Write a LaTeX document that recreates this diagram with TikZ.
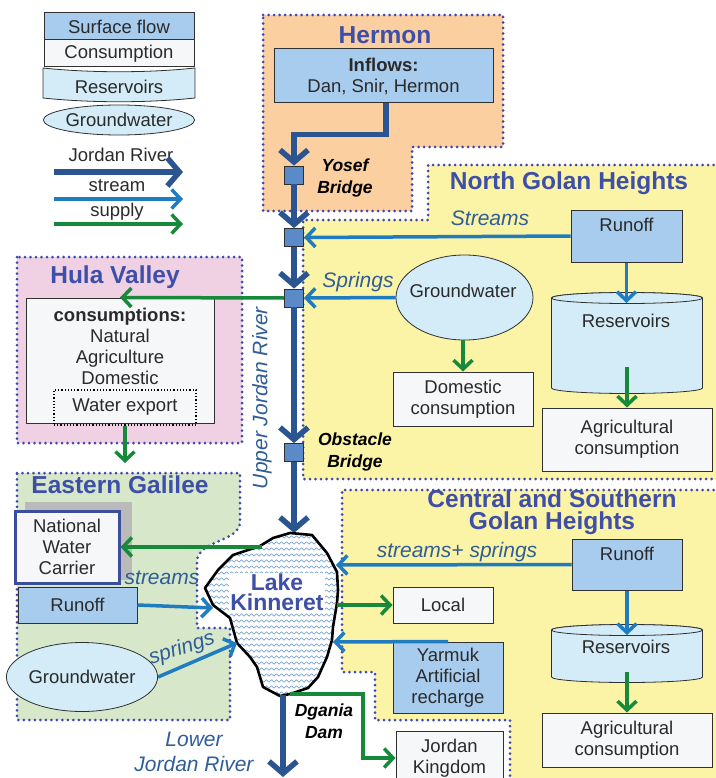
\documentclass[tikz,border=0pt]{standalone}
\usepackage{fontspec}
\setmainfont{Liberation Sans}
\usetikzlibrary{arrows.meta,shapes.geometric,decorations.pathmorphing,calc}
\definecolor{dotc}{HTML}{4048B0}
\definecolor{titc}{HTML}{3D4FA8}
\definecolor{riverc}{HTML}{2A5590}
\definecolor{streamc}{HTML}{1F7CC1}
\definecolor{supplyc}{HTML}{17893A}
\definecolor{labc}{HTML}{2F5D98}
\definecolor{surfc}{HTML}{A8CCEE}
\definecolor{resc}{HTML}{D3ECF8}
\definecolor{consc}{HTML}{F6F7F9}
\definecolor{orangec}{HTML}{FBCF9F}
\definecolor{yellowc}{HTML}{FBF3A6}
\definecolor{pinkc}{HTML}{EFD1E3}
\definecolor{greenc}{HTML}{D7E7C9}
\definecolor{sqc}{HTML}{5B8AC8}
\definecolor{linec}{HTML}{303030}
\definecolor{txtc}{HTML}{2A2A2A}
\definecolor{nwcc}{HTML}{3B4E9E}
\definecolor{wavec}{HTML}{5E93D0}
\newcommand\nf{\fontsize{18.5}{21}\selectfont}
\newcommand\tf{\bfseries\fontsize{24.5}{22}\selectfont}
\newcommand\lf{\itshape\fontsize{21}{25}\selectfont}
\newcommand\bif{\bfseries\itshape\fontsize{17.5}{22}\selectfont}
\begin{document}
\begin{tikzpicture}[x=1pt,y=-1pt,
  every node/.style={text=txtc, font=\nf},
  region/.style={draw=dotc, line width=3pt, line cap=round, dash pattern=on 0pt off 5.5pt},
  box/.style={draw=linec, line width=1pt, inner sep=0pt, align=center},
  surf/.style={box, fill=surfc},
  cons/.style={box, fill=consc},
  gw/.style={ellipse, draw=linec, line width=0.8pt, fill=resc, inner sep=0pt},
  cyl/.style={draw=linec, line width=0.8pt, fill=resc},
  river/.style={draw=riverc, line width=5.5pt, -{Straight Barb[length=12pt,width=28pt]}},
  stream/.style={draw=streamc, line width=3.5pt, -{Straight Barb[length=9pt,width=19pt]}},
  supply/.style={draw=supplyc, line width=3.5pt, -{Straight Barb[length=9pt,width=19pt]}},
  bridge/.style={draw=linec, fill=sqc, line width=0.8pt, minimum width=19pt, minimum height=18pt, inner sep=0pt},
  title/.style={text=titc, font=\tf, align=center},
  lab/.style={text=labc, font=\lf},
  blab/.style={text=black, font=\bif, align=center},
  wave/.style={draw=wavec, line width=0.5pt, decorate, decoration={snake, amplitude=1.2pt, segment length=5pt}}
]
\useasboundingbox (0,0) rectangle (715,778);

% ---------- regions ----------
\path[region, fill=orangec] (263,15) -- (503,15) -- (503,147) -- (412,147) -- (412,211) -- (263,211) -- cycle;
\path[fill=yellowc] (428,165) -- (730,165) -- (730,479) -- (303,479) -- (303,220) -- (428,220) -- cycle;
\draw[region] (730,165) -- (428,165) -- (428,220) -- (303,220) -- (303,479) -- (730,479);
\path[fill=yellowc] (342,490) -- (730,490) -- (730,790) -- (510,790) -- (510,720) -- (375,720) -- (375,672) -- (342,672) -- cycle;
\draw[region] (730,490) -- (342,490) -- (342,672) -- (375,672) -- (375,720) -- (510,720) -- (510,790);
\path[region, fill=pinkc] (17,257) rectangle (242,443);
\path[region, fill=greenc] (17,473) -- (240,473) -- (240,522) .. controls (240,542) and (197,540) .. (197,562) -- (197,628) -- (230,628) -- (230,720) -- (17,720) -- cycle;

% ---------- legend ----------
\node[surf, minimum width=150pt, minimum height=27pt] (lsf) at (119,26.5) {Surface flow};
\node[cons, minimum width=150pt, minimum height=27pt] (lcons) at (119,53.5) {Consumption};
\path[cyl] (43,68) .. controls (90,73) and (148,73) .. (195,68) -- (195,98) .. controls (148,103) and (90,103) .. (43,98) -- cycle;
\node (lres) at (119,87) {Reservoirs};
\node[gw, minimum width=148pt, minimum height=30pt] (lgw) at (119,120) {Groundwater};
\node (ljr) at (121,155) {Jordan River};
\coordinate (ljra) at (54,172); \coordinate (ljrb) at (183,172);
\draw[river] (ljra) -- (ljrb);
\node (lst) at (117,186) {stream};
\coordinate (lsta) at (54,199); \coordinate (lstb) at (183,199);
\draw[stream] (lsta) -- (lstb);
\node (lsu) at (117,212) {supply};
\coordinate (lsua) at (54,224); \coordinate (lsub) at (183,224);
\draw[supply] (lsua) -- (lsub);

% ---------- Hermon ----------
\node[title] (thermon) at (385,35) {Hermon};
\node[surf, minimum width=219pt, minimum height=54pt] (inflow) at (383.5,76) {\textbf{Inflows:}\\Dan, Snir, Hermon};

% ---------- river squares ----------
\node[bridge] (yosef) at (294,175) {};
\node[bridge] (sq2) at (294,237.5) {};
\node[bridge] (sq3) at (294,298) {};
\node[bridge] (obst) at (294,452.5) {};
\draw[river] ([xshift=2.5pt]inflow.south) |- ($(yosef.north)+(0,-31)$) -- (yosef.north);
\draw[river] (yosef.south) -- (sq2.north);
\draw[river] (sq2.south) -- (sq3.north);
\draw[river] (sq3.south) -- (obst.north);
\coordinate (laketop) at (294,533);
\draw[river] (obst.south) -- (laketop);
\node[blab] (ybl) at (345,178) {Yosef\\Bridge};
\node[blab] (obl) at (355,452) {Obstacle\\Bridge};
\node[lab, rotate=90] (luj) at (262,398) {Upper Jordan River};

% ---------- North Golan ----------
\node[title] (tng) at (569,183) {North Golan Heights};
\node[surf, minimum width=111pt, minimum height=52pt] (nrun) at (626.5,236) {};
\node (nrunt) at (626.5,225) {Runoff};
\draw[stream] (nrun.west) -- (sq2.east);
\node[lab] (lstreams) at (490,218) {Streams};
\path[cyl] (551.5,298) -- (551.5,388) arc[start angle=180, end angle=0, x radius=75.5, y radius=5.5] -- (702.5,298) arc[start angle=0, end angle=-180, x radius=75.5, y radius=5.5] -- cycle;
\draw[cyl] (627,298) ellipse[x radius=75.5, y radius=5.5];
\node (nres) at (626,321) {Reservoirs};
\coordinate (nrestop) at (626.5,303);
\coordinate (nresin) at (627,367);
\draw[stream] (nrun.south) -- (nrestop);
\node[gw, minimum width=137pt, minimum height=85pt] (ngw) at (464.5,297.5) {};
\node (ngwt) at (463,291) {Groundwater};
\draw[stream] (ngw.west) -- (sq3.east);
\node[lab] (lsprings) at (358,282) {Springs};
\node[cons, minimum width=140pt, minimum height=54pt] (ndom) at (463,399) {Domestic\\consumption};
\draw[supply] (ngw.south -| ndom.north) -- (ndom.north);
\node[cons, minimum width=170pt, minimum height=63pt] (nagr) at (627,439.5) {Agricultural\\consumption};
\draw[supply] (nresin) -- (nagr.north);

% ---------- Hula ----------
\node[title] (thula) at (115,277) {Hula Valley};
\node[cons, minimum width=188pt, minimum height=125pt] (hcons) at (120,360.5) {};
\node[align=center] (hconst) at (120,346) {\textbf{consumptions:}\\Natural\\Agriculture\\Domestic};
\node[draw=black, line width=1.2pt, dotted, minimum width=142pt, minimum height=35pt, inner sep=0pt] (wexp) at (125,407.5) {Water export};
\draw[supply] (sq3.west) -- (hcons.north);
\coordinate (egtop) at (125,463);
\draw[supply] (wexp.south) -- (egtop);

% ---------- Eastern Galilee ----------
\node[title] (teg) at (120,485) {Eastern Galilee};
\node[fill=black!27, minimum width=107pt, minimum height=78pt, inner sep=0pt] (nwcsh) at (78.5,541) {};
\node[cons, draw=nwcc, line width=3pt, minimum width=104pt, minimum height=72pt] (nwc) at (67,547) {National\\Water\\Carrier};
\node[surf, minimum width=119pt, minimum height=36pt] (egrun) at (77.5,605) {Runoff};
\node[gw, minimum width=128pt, minimum height=69pt] (eggw) at (82,677) {Groundwater};

% ---------- Lake ----------
\path[fill=white] (290,533) -- (312,535) -- (327,553) -- (337,572) -- (338,590) -- (337,603) -- (333,627) -- (332,640) -- (327,657) -- (318,677) -- (308,688) -- (290,694) -- (280,696) -- (263,687) -- (257,667) -- (250,657) -- (237,643) -- (230,618) -- (213,605) -- (205,588) -- (218,570) -- (233,555) -- (260,546) -- (273,538) -- cycle;
\begin{scope}
\clip (290,533) -- (312,535) -- (327,553) -- (337,572) -- (338,590) -- (337,603) -- (333,627) -- (332,640) -- (327,657) -- (318,677) -- (308,688) -- (290,694) -- (280,696) -- (263,687) -- (257,667) -- (250,657) -- (237,643) -- (230,618) -- (213,605) -- (205,588) -- (218,570) -- (233,555) -- (260,546) -- (273,538) -- cycle;
\foreach \yy in {531,537,...,699} { \draw[wave] (195,\yy) -- (350,\yy); }
\end{scope}
\draw[black, line width=2.6pt, line join=round] (290,533) -- (312,535) -- (327,553) -- (337,572) -- (338,590) -- (337,603) -- (333,627) -- (332,640) -- (327,657) -- (318,677) -- (308,688) -- (290,694) -- (280,696) -- (263,687) -- (257,667) -- (250,657) -- (237,643) -- (230,618) -- (213,605) -- (205,588) -- (218,570) -- (233,555) -- (260,546) -- (273,538) -- cycle;
\node[text=titc, font=\bfseries\fontsize{23}{20}\selectfont, align=center, fill=white, inner sep=1pt] (lake) at (277,592) {Lake\\Kinneret};

\coordinate (lakenwc) at (262,547);
\coordinate (lakerun) at (213,608);
\coordinate (lakespr) at (237,643);
\coordinate (lakecs) at (336,565);
\coordinate (lakeloc) at (337,605);
\coordinate (lakeyar) at (333,642);
\coordinate (lakebot) at (283,695);
\coordinate (lakedg) at (290,694);
\coordinate (lowerend) at (283,777);

\draw[supply] (lakenwc) -- (nwc.east);
\node[lab] (lstr2) at (162,578) {streams};
\draw[stream] (egrun.east) -- (lakerun);
\draw[stream] (eggw.east) -- (lakespr);
\node[lab, rotate=18, inner sep=0pt] (lspr2) at (182,649) {springs};
\draw[river] (lakebot) -- (lowerend);
\node[lab, align=center] (llower) at (194,752) {Lower\\Jordan River};
\node[blab] (dg) at (324,721) {Dgania\\Dam};

% ---------- Central & Southern ----------
\node[title] (tcs) at (552,512) {Central and Southern\\Golan Heights};
\node[surf, minimum width=110pt, minimum height=51pt] (crun) at (627,564.5) {};
\node (cruntxt) at (627,554) {Runoff};
\draw[stream] (crun.west) -- (lakecs);
\node[lab] (lss) at (457,552) {streams+ springs};
\node[cons, minimum width=100pt, minimum height=36pt] (local) at (443,605) {Local};
\draw[supply] (lakeloc) -- (local.west);
\node[surf, minimum width=110pt, minimum height=71pt] (yar) at (448,677.5) {Yarmuk\\Artificial\\recharge};
\draw[stream] (yar.north) -- (lakeyar);
\path[cyl] (551.5,630) -- (551.5,677) arc[start angle=180, end angle=0, x radius=75.5, y radius=5.5] -- (702.5,630) arc[start angle=0, end angle=-180, x radius=75.5, y radius=5.5] -- cycle;
\draw[cyl] (627,630) ellipse[x radius=75.5, y radius=5.5];
\node (cres) at (626,647) {Reservoirs};
\coordinate (crestop) at (627,635);
\coordinate (cresin) at (627,672);
\draw[stream] (crun.south) -- (crestop);
\node[cons, minimum width=170pt, minimum height=54pt] (cagr) at (627,740) {Agricultural\\consumption};
\draw[supply] (cresin) -- (cagr.north);
\node[cons, minimum width=107pt, minimum height=54pt] (jk) at (449.5,758) {Jordan\\Kingdom};
\draw[supply] (lakedg) -- ++(73,0) |- (jk.west);
\end{tikzpicture}
\end{document}
